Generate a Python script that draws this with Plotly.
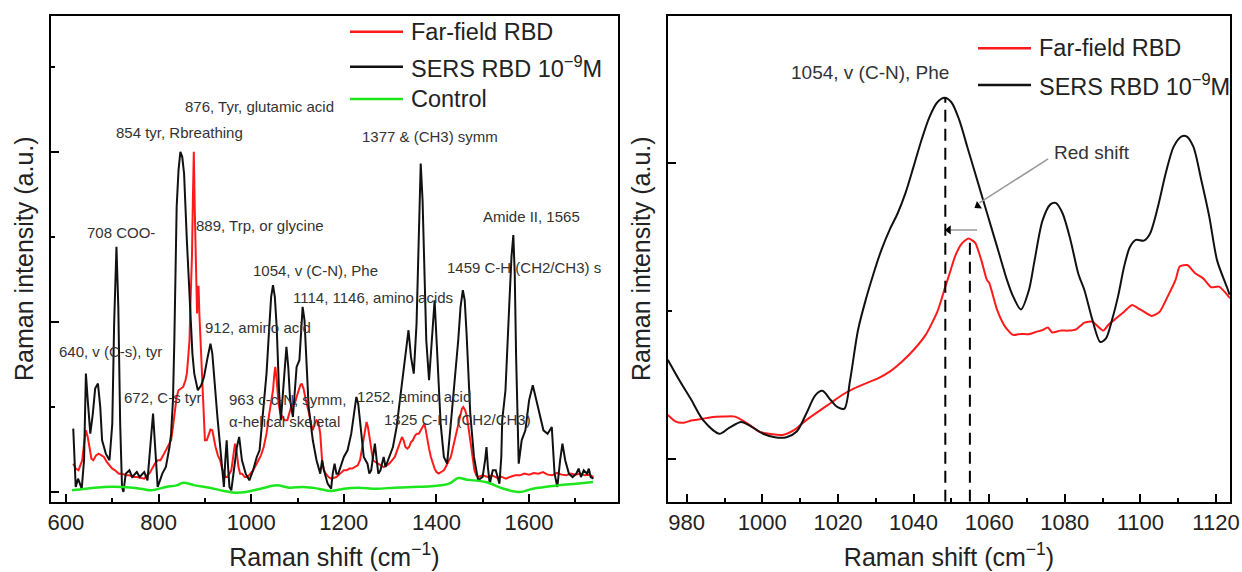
import plotly.graph_objects as go

FONT = "Liberation Sans, Arial, sans-serif"

# ---------------- Left panel data (Raman shift cm-1, intensity a.u.) ----------------
sers_x = [615.7, 621, 626, 634, 639, 643, 647, 652.5, 658, 663, 669, 674, 678, 686, 694, 700, 704, 709, 713, 717,
          721, 724, 729, 737, 743, 753, 759, 769, 776, 782, 788, 793, 798, 803, 808, 815.7, 823.5, 827, 831, 834,
          839, 843, 847, 851, 855, 861, 865, 869, 873, 877, 884.7, 892, 898, 906, 912, 916, 919, 927, 935, 941,
          944, 947, 950, 953, 957, 963, 969, 974, 980, 988, 996, 1004, 1012, 1018, 1023.5, 1033, 1039, 1043, 1047, 1051,
          1055, 1060, 1064, 1071, 1076, 1080, 1084, 1090, 1094, 1098, 1104, 1108, 1111, 1115, 1118, 1124, 1133, 1141, 1149, 1153,
          1157, 1165, 1172.5, 1176, 1180, 1184, 1188, 1194, 1200, 1208, 1216, 1222, 1227, 1231, 1235, 1243, 1251, 1255, 1259, 1264,
          1267, 1271, 1274.5, 1279, 1282, 1286, 1290, 1298, 1306, 1314, 1321.6, 1329, 1335, 1339.6, 1345, 1351, 1357, 1361, 1366, 1370,
          1372.5, 1378, 1384, 1390, 1396, 1402, 1409, 1416, 1423, 1431, 1439, 1447, 1452, 1457, 1461, 1465, 1473, 1481, 1490, 1499.6,
          1505, 1508, 1511, 1515, 1521.6, 1528, 1536, 1540, 1542, 1549, 1557, 1562, 1566, 1569, 1572, 1575, 1577.6, 1584, 1592, 1600,
          1608, 1615.7, 1623.5, 1631, 1640, 1645, 1649, 1655, 1661, 1667, 1672, 1678, 1686, 1694, 1702, 1707, 1712, 1718, 1725, 1729,
          1733, 1739]
sers_y = [0.745, 0.059, 0.157, 0.039, 0.373, 1.392, 1.078, 0.686, 0.922, 1.216, 1.275, 1.0, 0.608, 0.451, 0.373, 0.804, 1.98, 2.882, 2.176, 0.804,
          0.059, 0.0, 0.216, 0.255, 0.176, 0.235, 0.176, 0.235, 0.137, 0.49, 0.922, 0.49, 0.059, 0.137, 0.216, 0.294, 0.529, 0.686, 1.078, 1.784,
          3.353, 3.784, 4.0, 3.941, 3.745, 2.961, 2.451, 1.98, 1.627, 1.392, 1.196, 1.255, 1.353, 1.588, 1.745, 1.627, 1.392, 0.882, 0.412, 0.059,
          0.373, 0.608, 0.294, 0.059, 0.02, 0.294, 0.529, 0.647, 0.373, 0.216, 0.137, 0.255, 0.412, 0.49, 0.804, 1.392, 1.941, 2.294, 2.431, 2.294,
          1.941, 1.196, 0.843, 1.392, 1.706, 1.47, 1.078, 0.882, 1.157, 1.47, 1.549, 1.941, 2.176, 2.02, 1.706, 1.0, 0.608, 0.373, 0.216, 0.373,
          0.255, 0.098, 0.039, 0.216, 0.333, 0.216, 0.216, 0.314, 0.412, 0.49, 0.686, 0.922, 1.118, 1.039, 0.804, 0.412, 0.333, 0.216, 0.255, 0.451,
          0.569, 0.373, 0.216, 0.255, 0.333, 0.412, 0.294, 0.412, 0.529, 0.765, 1.118, 1.392, 1.706, 1.902, 1.588, 1.392, 1.98, 2.961, 3.863, 3.431,
          2.961, 1.784, 1.314, 1.784, 2.255, 1.588, 0.804, 0.412, 0.333, 0.804, 1.275, 1.784, 2.176, 2.373, 2.255, 1.863, 0.922, 0.412, 0.137, 0.176,
          0.373, 0.529, 0.294, 0.098, 0.255, 0.255, 0.098, 0.412, 0.843, 1.196, 2.176, 2.765, 3.02, 2.569, 1.588, 0.804, 0.333, 0.608, 0.725, 1.078,
          1.255, 1.078, 0.882, 0.725, 0.686, 0.725, 0.765, 0.216, 0.059, 0.373, 0.569, 0.373, 0.216, 0.176, 0.216, 0.275, 0.176, 0.255, 0.216, 0.275,
          0.176, 0.157]

far_x = [615.7, 621, 627, 635, 640, 643, 647, 651, 655, 659, 665, 670.6, 676, 682, 688, 694, 700, 706, 714, 721.6,
         729, 737, 745, 753, 761, 769, 775, 780, 786, 792, 798, 804, 810, 815.7, 821, 827, 831, 835, 839, 843,
         848, 853, 858, 861, 864, 866.7, 869, 872, 874, 876, 878, 880, 883, 884.5, 886.3, 888, 891, 894, 897, 900,
         904, 908, 912, 916, 920, 923, 928, 933, 937, 941, 945, 949, 953, 957, 961, 965, 969, 972.5, 976, 980,
         986, 992, 998, 1004, 1010, 1016, 1021, 1027, 1033, 1039, 1043, 1047, 1050, 1052, 1055, 1059, 1063, 1067, 1072, 1078,
         1082, 1086, 1090, 1094, 1098, 1102, 1106, 1109, 1113, 1118, 1122, 1125, 1129, 1133, 1137, 1141, 1145, 1149, 1153, 1157,
         1161, 1167, 1172.5, 1178, 1184, 1192, 1200, 1206, 1212, 1218, 1224, 1230, 1235, 1239, 1243, 1246, 1249, 1252, 1256, 1260,
         1263, 1268, 1274.5, 1280, 1286, 1292, 1298, 1304, 1310, 1314, 1318, 1322, 1325.5, 1329, 1333, 1337, 1341, 1345, 1349, 1354,
         1358, 1362, 1366, 1370, 1374, 1377, 1380, 1384, 1388, 1392, 1396, 1400, 1405, 1410, 1416, 1420, 1423, 1427, 1431, 1435,
         1439, 1443, 1447, 1451, 1455, 1458, 1462, 1466, 1470, 1474, 1478, 1482, 1486, 1490, 1500, 1510, 1520, 1530, 1540, 1550,
         1560, 1570, 1580, 1590, 1600, 1610, 1620, 1630, 1640, 1650, 1660, 1670, 1680, 1690, 1700, 1710, 1720, 1730, 1739]
far_y = [0.333, 0.275, 0.255, 0.373, 0.608, 0.725, 0.647, 0.529, 0.392, 0.373, 0.431, 0.451, 0.431, 0.412, 0.353, 0.314, 0.275, 0.255, 0.216, 0.216,
         0.196, 0.196, 0.176, 0.176, 0.169, 0.157, 0.196, 0.216, 0.275, 0.333, 0.373, 0.373, 0.431, 0.49, 0.529, 0.608, 0.765, 0.961, 1.118, 1.196,
         1.216, 1.235, 1.314, 1.392, 1.588, 1.784, 2.255, 2.765, 3.431, 4.0, 3.353, 2.647, 2.098, 2.412, 2.412, 2.098, 1.706, 1.196, 0.843, 0.608,
         0.608, 0.686, 0.733, 0.725, 0.608, 0.529, 0.431, 0.373, 0.275, 0.216, 0.176, 0.176, 0.216, 0.255, 0.412, 0.569, 0.451, 0.294, 0.216, 0.216,
         0.176, 0.176, 0.216, 0.255, 0.314, 0.373, 0.431, 0.529, 0.686, 0.922, 1.039, 1.196, 1.392, 1.471, 1.314, 1.039, 0.922, 0.882, 0.843, 0.843,
         0.922, 1.0, 1.02, 1.039, 1.118, 1.196, 1.255, 1.275, 1.216, 1.078, 1.0, 0.922, 0.804, 0.725, 0.804, 0.843, 0.824, 0.686, 0.373, 0.255,
         0.216, 0.176, 0.157, 0.169, 0.176, 0.216, 0.255, 0.255, 0.275, 0.275, 0.294, 0.314, 0.373, 0.49, 0.608, 0.725, 0.824, 0.765, 0.608, 0.451,
         0.373, 0.353, 0.333, 0.314, 0.294, 0.314, 0.333, 0.373, 0.412, 0.471, 0.529, 0.608, 0.647, 0.608, 0.529, 0.51, 0.529, 0.588, 0.608, 0.667,
         0.686, 0.686, 0.725, 0.765, 0.804, 0.725, 0.608, 0.51, 0.412, 0.333, 0.275, 0.235, 0.216, 0.235, 0.255, 0.294, 0.333, 0.373, 0.412, 0.51,
         0.608, 0.706, 0.804, 0.902, 0.98, 1.0, 0.961, 0.882, 0.725, 0.529, 0.373, 0.255, 0.196, 0.176, 0.196, 0.176, 0.196, 0.169, 0.18, 0.157,
         0.18, 0.196, 0.196, 0.216, 0.204, 0.224, 0.216, 0.235, 0.204, 0.196, 0.224, 0.204, 0.196, 0.216, 0.204, 0.216, 0.196, 0.204, 0.176]

ctrl_x = [613, 643, 682, 721.6, 761, 784, 816, 839, 853, 878, 910, 941, 965, 988, 1020, 1055, 1082, 1114, 1145, 1172.5,
          1200, 1231, 1270, 1310, 1349, 1388, 1427, 1447, 1466, 1506, 1545, 1580, 1608, 1663, 1702, 1738]
ctrl_y = [0.02, 0.039, 0.059, 0.059, 0.039, 0.02, 0.059, 0.078, 0.11, 0.078, 0.051, 0.012, -0.008, 0.0, 0.039, 0.078, 0.051, 0.059, 0.039, 0.012,
          0.039, 0.051, 0.039, 0.051, 0.059, 0.067, 0.098, 0.165, 0.145, 0.118, 0.039, 0.0, 0.039, 0.078, 0.098, 0.118]

# ---------------- Right panel data (zoom on 975-1124 cm-1) ----------------
zs_x = [975.0, 978.1, 981.2, 984.4, 988.6, 991.2, 994.4, 997.0, 1000.2, 1003.3, 1006.4, 1009.1, 1011.7, 1014.0, 1015.9, 1018.0, 1019.9, 1021.7,
        1023.2, 1025.3, 1027.4, 1029.5, 1031.6, 1033.7, 1035.8, 1037.9, 1040.0, 1042.1, 1044.2, 1046.3, 1048.2, 1050.0, 1052.1, 1054.2,
        1056.3, 1058.4, 1060.5, 1062.6, 1064.7, 1066.3, 1068.4, 1070.5, 1072.0, 1074.1, 1076.2, 1077.6, 1079.4, 1081.5, 1083.6, 1085.2,
        1087.3, 1089.4, 1090.9, 1092.5, 1094.1, 1095.7, 1097.2, 1098.8, 1100.9, 1102.5, 1104.6, 1106.7, 1108.8, 1110.9, 1112.2, 1114.0,
        1116.1, 1118.2, 1120.3, 1122.9, 1123.6]
zs_y = [0.67, 0.53, 0.40, 0.26, 0.17, 0.21, 0.25, 0.22, 0.17, 0.147, 0.147, 0.185, 0.31, 0.43, 0.46, 0.40, 0.35, 0.34,
        0.53, 0.87, 1.08, 1.26, 1.42, 1.55, 1.66, 1.80, 1.975, 2.155, 2.31, 2.41, 2.44, 2.41, 2.29, 2.11,
        1.93, 1.75, 1.57, 1.39, 1.21, 1.10, 1.01, 1.14, 1.34, 1.61, 1.72, 1.73, 1.66, 1.48, 1.25, 1.14,
        0.94, 0.79, 0.815, 0.94, 1.10, 1.30, 1.43, 1.48, 1.475, 1.52, 1.70, 1.93, 2.11, 2.18, 2.18, 2.11,
        1.885, 1.64, 1.34, 1.16, 1.11]

zf_x = [975.0, 977.1, 979.2, 981.2, 983.4, 986.5, 989.7, 992.8, 996.0, 999.1, 1002.2, 1005.4, 1008.5, 1011.7, 1014.8, 1018.0, 1021.1,
        1024.3, 1027.4, 1030.6, 1033.7, 1036.9, 1040.0, 1043.2, 1046.3, 1048.4, 1049.5, 1051.0, 1052.6, 1054.5, 1056.3, 1057.9, 1059.4,
        1060.0, 1062.1, 1064.2, 1066.3, 1068.4, 1070.5, 1072.6, 1074.1, 1075.5, 1076.7, 1078.8, 1080.9, 1083.0, 1085.2, 1087.3, 1088.8,
        1090.2, 1091.5, 1093.6, 1095.7, 1097.8, 1099.4, 1100.9, 1103.0, 1105.1, 1107.2, 1109.3, 1110.4, 1112.4, 1114.5, 1116.6, 1118.7,
        1120.8, 1123.7]
zf_y = [0.297, 0.252, 0.245, 0.259, 0.268, 0.282, 0.286, 0.286, 0.241, 0.185, 0.169, 0.162, 0.196, 0.264, 0.32, 0.376, 0.432,
        0.477, 0.511, 0.545, 0.59, 0.657, 0.736, 0.838, 0.995, 1.164, 1.25, 1.37, 1.45, 1.49, 1.46, 1.345, 1.21,
        1.19, 1.007, 0.894, 0.838, 0.845, 0.843, 0.86, 0.87, 0.888, 0.854, 0.867, 0.867, 0.876, 0.921, 0.928, 0.894,
        0.867, 0.905, 0.95, 0.995, 1.04, 1.018, 0.995, 0.966, 0.995, 1.097, 1.21, 1.30, 1.31, 1.255, 1.22, 1.16,
        1.164, 1.086]

# peak positions marked by dashed lines (cm-1) and their heights
sers_peak = [1048.4, 2.44]
far_peak = [1054.9, 1.49]

x_ticks_left = [600, 800, 1000, 1200, 1400, 1600]
x_ticks_right = [980, 1000, 1020, 1040, 1060, 1080, 1100, 1120]

left_labels = [
    ("876, Tyr, glutamic acid", 853.7, 4.529),
    ("854 tyr, Rbreathing", 702.7, 4.224),
    ("1377 & (CH3) symm", 1234.5, 4.176),
    ("708 COO-", 640.1, 3.047),
    ("889, Trp, or glycine", 877.4, 3.129),
    ("Amide II, 1565", 1496.7, 3.235),
    ("1054, v (C-N), Phe", 1000.4, 2.604),
    ("1459 C-H (CH2/CH3) s", 1419.0, 2.635),
    ("1114, 1146, amino acids", 1086.7, 2.282),
    ("912, amino acid", 896.9, 1.929),
    ("640, v (C-s), tyr", 579.7, 1.651),
    ("672, C-s tyr", 721.0, 1.106),
    ("963 c-c-N, symm,", 948.7, 1.082),
    ("\u03b1-helical skeletal", 948.7, 0.827),
    ("1252, amino acid", 1224.8, 1.121),
    ("1325 C-H, (CH2/CH3)", 1283.0, 0.855),
]

RED = "#ff1a1a"
BLACK = "#111111"
GREEN = "#1ee61e"
W, H = 1242, 572

fig = go.Figure()
fig.add_trace(go.Scatter(x=far_x, y=far_y, mode="lines", line=dict(color=RED, width=2), name="Far-field RBD",
                         xaxis="x", yaxis="y", showlegend=False))
fig.add_trace(go.Scatter(x=sers_x, y=sers_y, mode="lines", line=dict(color=BLACK, width=2), name="SERS RBD 10<sup>\u22129</sup>M",
                         xaxis="x", yaxis="y", showlegend=False))
fig.add_trace(go.Scatter(x=ctrl_x, y=ctrl_y, mode="lines", line=dict(color=GREEN, width=2.5, shape="spline"), name="Control",
                         xaxis="x", yaxis="y", showlegend=False))
fig.add_trace(go.Scatter(x=zf_x, y=zf_y, mode="lines", line=dict(color=RED, width=2, shape="spline", smoothing=0.6),
                         name="Far-field RBD", xaxis="x2", yaxis="y2", showlegend=False))
fig.add_trace(go.Scatter(x=zs_x, y=zs_y, mode="lines", line=dict(color=BLACK, width=2, shape="spline", smoothing=0.8),
                         name="SERS RBD 10<sup>\u22129</sup>M", xaxis="x2", yaxis="y2", showlegend=False))

# arrowheads of the red-shift pointers (at the SERS peak position / end of label pointer)
arrow_y = 1.547
pointer_head = [1057.0, 1.71]
fig.add_trace(go.Scatter(x=[sers_peak[0] + 0.9], y=[arrow_y], mode="markers", xaxis="x2", yaxis="y2", showlegend=False,
                         hoverinfo="skip",
                         marker=dict(symbol="triangle-left", size=8, color="black", line=dict(width=0))))
fig.add_trace(go.Scatter(x=[pointer_head[0]], y=[pointer_head[1]], mode="markers", xaxis="x2", yaxis="y2", showlegend=False,
                         hoverinfo="skip",
                         marker=dict(symbol="triangle-up", angle=236.5, size=8, color="black", line=dict(width=0))))

axis_common = dict(showline=True, linecolor="black", linewidth=2, mirror=True, ticks="inside",
                   tickcolor="black", tickwidth=2, ticklen=8, showgrid=False, zeroline=False, automargin=False,
                   tickfont=dict(family=FONT, size=22, color="#222"))
title_font = dict(family=FONT, size=25, color="#222")

xd1 = [50.7 / W, 618 / W]
xd2 = [668 / W, 1230 / W]
yd = [(H - 501.7) / H, (H - 15.7) / H]

fig.update_layout(
    width=W, height=H, margin=dict(l=0, r=0, t=0, b=0, autoexpand=False),
    paper_bgcolor="white", plot_bgcolor="white", showlegend=False,
    xaxis=dict(domain=xd1, range=[567, 1792], tickvals=x_ticks_left, anchor="y",
               minor=dict(dtick=100, tick0=600, ticks="inside", ticklen=4, tickwidth=2, tickcolor="black"),
               title=dict(text="Raman shift (cm<sup>\u22121</sup>)", font=title_font, standoff=14), **axis_common),
    yaxis=dict(domain=yd, range=[-0.114, 5.60], tick0=0, dtick=2, showticklabels=False, anchor="x",
               minor=dict(dtick=1, tick0=0, ticks="inside", ticklen=4, tickwidth=2, tickcolor="black"),
               title=dict(text="Raman intensity (a.u.)", font=title_font, standoff=8), **axis_common),
    xaxis2=dict(domain=xd2, range=[975.05, 1123.7], tickvals=x_ticks_right, anchor="y2",
                minor=dict(dtick=10, tick0=980, ticks="inside", ticklen=4, tickwidth=2, tickcolor="black"),
                title=dict(text="Raman shift (cm<sup>\u22121</sup>)", font=title_font, standoff=14), **axis_common),
    yaxis2=dict(domain=yd, range=[-0.289, 2.995], tick0=0, dtick=2, showticklabels=False, anchor="x2",
                minor=dict(dtick=1, tick0=0, ticks="inside", ticklen=4, tickwidth=2, tickcolor="black"),
                title=dict(text="Raman intensity (a.u.)", font=title_font, standoff=8), **axis_common),
)

annotations = []
for text, x, y in left_labels:
    annotations.append(dict(text=text, x=x, y=y, xref="x", yref="y", xanchor="left", yanchor="middle",
                            showarrow=False, font=dict(family=FONT, size=15, color="#333")))
annotations.append(dict(text="1054, v (C-N), Phe", x=1007.0, y=2.61, xref="x2", yref="y2", xanchor="left",
                        yanchor="middle", showarrow=False, font=dict(family=FONT, size=19, color="#333")))
annotations.append(dict(text="Red shift", x=1076.7, y=2.07, xref="x2", yref="y2", xanchor="left",
                        yanchor="middle", showarrow=False, font=dict(family=FONT, size=19, color="#333")))

shapes = []
# dashed peak markers
for px_, py_ in (sers_peak, far_peak):
    shapes.append(dict(type="line", xref="x2", yref="y2", x0=px_, x1=px_, y0=-0.289, y1=py_,
                       line=dict(color="black", width=2, dash="12px,7px")))
# red-shift arrow line (gray) between the two peak positions
shapes.append(dict(type="line", xref="x2", yref="y2", x0=far_peak[0] + 1.9, x1=sers_peak[0] + 1.5,
                   y0=arrow_y, y1=arrow_y, line=dict(color="#999", width=1.5)))
# pointer from "Red shift" label
shapes.append(dict(type="line", xref="x2", yref="y2", x0=1075.6, y0=2.027, x1=pointer_head[0] + 0.4, y1=pointer_head[1] + 0.02,
                   line=dict(color="#999", width=1.5)))

# legends (drawn as sample lines + text)
def legend_row(x0, x1, xt, py, color, text):
    yy = (H - py) / H
    shapes.append(dict(type="line", xref="paper", yref="paper", x0=x0 / W, x1=x1 / W, y0=yy, y1=yy,
                       line=dict(color=color, width=2.5)))
    annotations.append(dict(text=text, x=xt / W, y=yy, xref="paper", yref="paper", xanchor="left",
                            yanchor="middle", showarrow=False, font=dict(family=FONT, size=23.5, color="#222")))

legend_row(350, 403, 409, 31.7, RED, "Far-field RBD")
legend_row(350, 403, 409, 66.7, BLACK, "SERS RBD 10<sup>\u22129</sup>M")
legend_row(350, 403, 409, 99.0, GREEN, "Control")
legend_row(978, 1031, 1037, 48.3, RED, "Far-field RBD")
legend_row(978, 1031, 1037, 85.0, BLACK, "SERS RBD 10<sup>\u22129</sup>M")

fig.update_layout(annotations=annotations, shapes=shapes)
# remove the browser's default 8px page margin so the 1242x572 figure fills the window exactly
fig.write_html("out.html", config={"displayModeBar": False},
               post_script="document.body.style.margin='0';document.body.style.overflow='hidden';")
